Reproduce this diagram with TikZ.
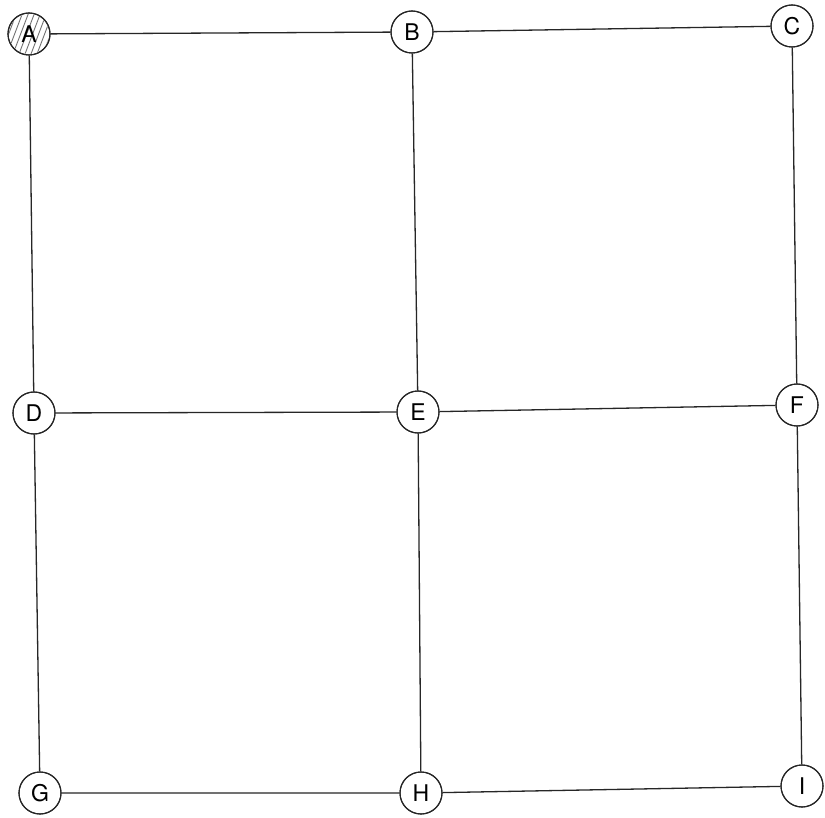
\documentclass[tikz,border=0pt]{standalone}
\usepackage{fontspec}
\setmainfont{TeX Gyre Heros}
\usetikzlibrary{calc}
\begin{document}
\begin{tikzpicture}[x=1pt,y=-1pt,
  vert/.style={circle,draw=black!85,line width=1.1pt,fill=white,minimum size=42pt,inner sep=0pt,font=\fontsize{23}{23}\selectfont},
  edge/.style={draw=black!85,line width=1.3pt}]
\useasboundingbox (0,0) rectangle (825,818);
\fill[white] (0,0) rectangle (825,818);
\coordinate (pA) at (29,34);
\coordinate (pB) at (412,32);
\coordinate (pC) at (792,26);
\coordinate (pD) at (34,413);
\coordinate (pE) at (418,412);
\coordinate (pF) at (797,405);
\coordinate (pG) at (40,793);
\coordinate (pH) at (421,793);
\coordinate (pI) at (802,786);
\foreach \n in {A,B,C,D,E,F,G,H,I} {\node[vert] (\n) at (p\n) {};}
\draw[edge] (A) -- (B) (B) -- (C) (D) -- (E) (E) -- (F) (G) -- (H) (H) -- (I)
  (A) -- (D) (D) -- (G) (B) -- (E) (E) -- (H) (C) -- (F) (F) -- (I);
\begin{scope}
\clip (pA) circle (20pt);
\foreach \k in {-36,-30,...,36} {
  \draw[black!55,line width=0.9pt] ($(pA)+(\k-10,20)$) -- ($(pA)+(\k+6,-22)$);
}
\end{scope}
\foreach \n in {A,B,C,D,E,F,G,H,I} {\node[vert,fill=none] at (p\n) {\n};}
\end{tikzpicture}
\end{document}
